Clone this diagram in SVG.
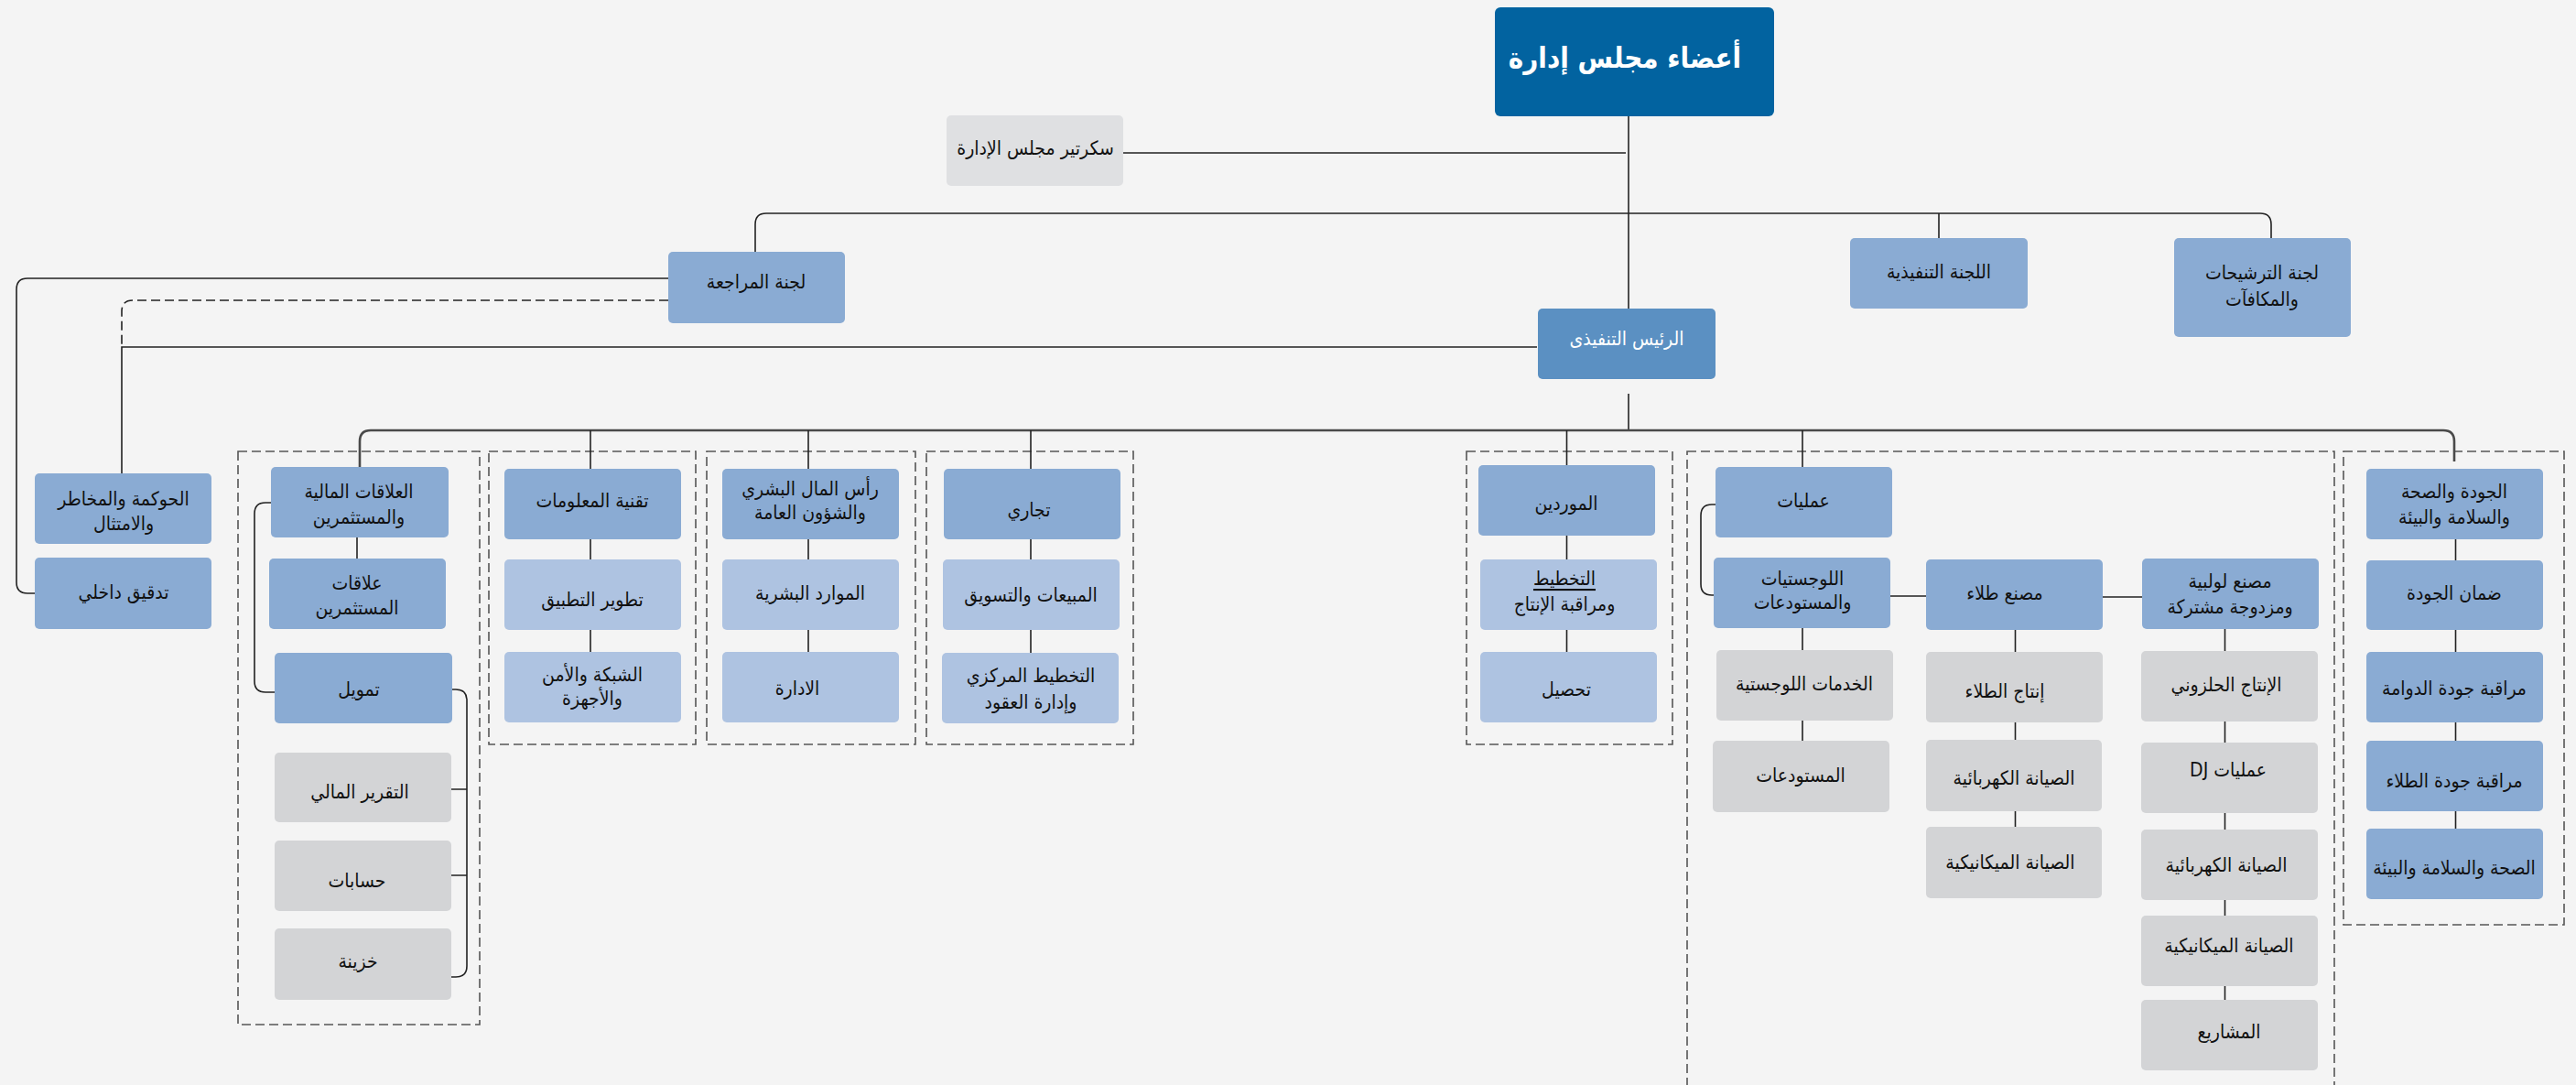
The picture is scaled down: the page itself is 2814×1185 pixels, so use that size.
<svg xmlns="http://www.w3.org/2000/svg" width="2814" height="1185" viewBox="0 0 2814 1185">
<style>
.bg{fill:#f4f4f4}
.n{fill:#8aabd3}
.l{fill:#aec3e1}
.g{fill:#d3d4d6}
.s{fill:#dfe0e2}
.c{fill:#5b90c2}
.b{fill:#0263a0}
text{font-family:"DejaVu Sans Condensed","DejaVu Sans",sans-serif;font-size:21px;fill:#111;text-anchor:middle;dominant-baseline:central;direction:rtl}
.w{fill:#fff}
.big{font-size:31px;font-weight:bold}
.ln{fill:none;stroke:#222;stroke-width:1.6}
.bus{fill:none;stroke:#4a4a4a;stroke-width:2.6}
.grp{fill:none;stroke:#555;stroke-width:1.6;stroke-dasharray:10 5}
</style>
<rect class="bg" x="0" y="0" width="2814" height="1185"/>
<g id="groups">
<rect class="grp" x="260" y="493" width="264" height="626"/>
<rect class="grp" x="534" y="493" width="226" height="320"/>
<rect class="grp" x="772" y="493" width="228" height="320"/>
<rect class="grp" x="1012" y="493" width="226" height="320"/>
<rect class="grp" x="1602" y="493" width="225" height="320"/>
<rect class="grp" x="1843" y="493" width="707" height="720"/>
<rect class="grp" x="2560" y="493" width="241" height="517"/>
</g>
<g id="connectors">
<path class="ln" d="M1779,122 V337"/>
<path class="ln" d="M1227,167 H1776"/>
<path class="ln" d="M825,275 V245 Q825,233 837,233 H2469 Q2481,233 2481,245 V260"/>
<path class="ln" d="M2118,233 V260"/>
<path class="ln" d="M1679,379 H133 V517"/>
<path class="ln" d="M730,328 H145 Q133,328 133,340 V379" stroke-dasharray="10 5"/>
<path class="ln" d="M730,304 H30 Q18,304 18,316 V636 Q18,648 30,648 H38"/>
<path class="ln" d="M1779,430 V470"/>
<path class="bus" d="M393,510 V482 Q393,470 405,470 H2669 Q2681,470 2681,482 V504"/>
<path class="ln" d="M645,470 V512 M883,470 V512 M1126,470 V512 M1711.5,470 V508 M1969,470 V510"/>
<path class="ln" d="M390,587 V610"/>
<path class="ln" d="M296,549 H290 Q278,549 278,561 V744 Q278,756 290,756 H300"/>
<path class="ln" d="M494,753 H498 Q510,753 510,765 V1055 Q510,1067 498,1067 H493 M493,862 H510 M493,956 H510"/>
<path class="ln" d="M645,589 V611 M645,688 V712"/>
<path class="ln" d="M883,589 V611 M883,688 V712"/>
<path class="ln" d="M1126,589 V611 M1126,688 V713"/>
<path class="ln" d="M1711.5,585 V611 M1711.5,688 V712"/>
<path class="ln" d="M1874,551 H1870 Q1858,551 1858,563 V638 Q1858,650 1870,650 H1872"/>
<path class="ln" d="M2065,651 H2104 M2297,652 H2340"/>
<path class="ln" d="M1969,686 V710 M1969,787 V809"/>
<path class="ln" d="M2201.5,688 V712 M2201.5,789 V808 M2201.5,886 V903"/>
<path class="ln" d="M2430.5,687 V711 M2430.5,788 V811 M2430.5,888 V906 M2430.5,983 V1000 M2430.5,1077 V1092"/>
<path class="ln" d="M2682.5,589 V612 M2682.5,688 V712 M2682.5,789 V809 M2682.5,886 V905"/>
</g>
<g id="board"><rect class="b" x="1633" y="8" width="305" height="119" rx="6"/><text class="w big" x="1775" y="63">أعضاء مجلس إدارة</text></g>
<g id="secretary"><rect class="s" x="1034" y="126" width="193" height="77" rx="5"/><text x="1131" y="162">سكرتير مجلس الإدارة</text></g>
<g id="audit-committee"><rect class="n" x="730" y="275" width="193" height="78" rx="5"/><text x="826" y="308">لجنة المراجعة</text></g>
<g id="executive-committee"><rect class="n" x="2021" y="260" width="194" height="77" rx="5"/><text x="2118" y="297">اللجنة التنفيذية</text></g>
<g id="nominations-committee"><rect class="n" x="2375" y="260" width="193" height="108" rx="5"/><text x="2471" y="298">لجنة الترشيحات</text><text x="2471" y="327">والمكافآت</text></g>
<g id="ceo"><rect class="c" x="1680" y="337" width="194" height="77" rx="5"/><text class="w" x="1777" y="370">الرئيس التنفيذى</text></g>
<g id="governance"><rect class="n" x="38" y="517" width="193" height="77" rx="5"/><text x="135" y="545">الحوكمة والمخاطر</text><text x="135" y="572">والامتثال</text></g>
<g id="internal-audit"><rect class="n" x="38" y="609" width="193" height="78" rx="5"/><text x="135" y="647">تدقيق داخلي</text></g>
<g id="financial-relations"><rect class="n" x="296" y="510" width="194" height="77" rx="5"/><text x="392" y="537">العلاقات المالية</text><text x="392" y="565">والمستثمرين</text></g>
<g id="investor-relations"><rect class="n" x="294" y="610" width="193" height="77" rx="5"/><text x="390" y="637">علاقات</text><text x="390" y="664">المستثمرين</text></g>
<g id="finance"><rect class="n" x="300" y="713" width="194" height="77" rx="5"/><text x="392" y="753">تمويل</text></g>
<g id="financial-reporting"><rect class="g" x="300" y="822" width="193" height="76" rx="5"/><text x="393" y="865">التقرير المالي</text></g>
<g id="accounts"><rect class="g" x="300" y="918" width="193" height="77" rx="5"/><text x="390" y="962">حسابات</text></g>
<g id="treasury"><rect class="g" x="300" y="1014" width="193" height="78" rx="5"/><text x="391" y="1050">خزينة</text></g>
<g id="it"><rect class="n" x="551" y="512" width="193" height="77" rx="5"/><text x="647" y="547">تقنية المعلومات</text></g>
<g id="app-dev"><rect class="l" x="551" y="611" width="193" height="77" rx="5"/><text x="647" y="655">تطوير التطبيق</text></g>
<g id="network"><rect class="l" x="551" y="712" width="193" height="77" rx="5"/><text x="647" y="737">الشبكة والأمن</text><text x="647" y="763">والأجهزة</text></g>
<g id="human-capital"><rect class="n" x="789" y="512" width="193" height="77" rx="5"/><text x="885" y="534">رأس المال البشري</text><text x="885" y="560">والشؤون العامة</text></g>
<g id="hr"><rect class="l" x="789" y="611" width="193" height="77" rx="5"/><text x="885" y="648">الموارد البشرية</text></g>
<g id="administration"><rect class="l" x="789" y="712" width="193" height="77" rx="5"/><text x="871" y="752">الادارة</text></g>
<g id="commercial"><rect class="n" x="1031" y="512" width="193" height="77" rx="5"/><text x="1124" y="557">تجاري</text></g>
<g id="sales"><rect class="l" x="1030" y="611" width="193" height="77" rx="5"/><text x="1126" y="650">المبيعات والتسويق</text></g>
<g id="central-planning"><rect class="l" x="1029" y="713" width="193" height="77" rx="5"/><text x="1126" y="738">التخطيط المركزي</text><text x="1126" y="767">وإدارة العقود</text></g>
<g id="suppliers"><rect class="n" x="1615" y="508" width="193" height="77" rx="5"/><text x="1711" y="550">الموردين</text></g>
<g id="production-planning"><rect class="l" x="1617" y="611" width="193" height="77" rx="5"/><text x="1709" y="632" text-decoration="underline">التخطيط</text><text x="1709" y="660">ومراقبة الإنتاج</text></g>
<g id="collection"><rect class="l" x="1617" y="712" width="193" height="77" rx="5"/><text x="1711" y="753">تحصيل</text></g>
<g id="operations"><rect class="n" x="1874" y="510" width="193" height="77" rx="5"/><text x="1970" y="547">عمليات</text></g>
<g id="logistics"><rect class="n" x="1872" y="609" width="193" height="77" rx="5"/><text x="1969" y="632">اللوجستيات</text><text x="1969" y="658">والمستودعات</text></g>
<g id="logistics-services"><rect class="g" x="1875" y="710" width="193" height="77" rx="5"/><text x="1971" y="747">الخدمات اللوجستية</text></g>
<g id="warehouses"><rect class="g" x="1871" y="809" width="193" height="78" rx="5"/><text x="1967" y="847">المستودعات</text></g>
<g id="paint-factory"><rect class="n" x="2104" y="611" width="193" height="77" rx="5"/><text x="2190" y="648">مصنع طلاء</text></g>
<g id="paint-production"><rect class="g" x="2104" y="712" width="193" height="77" rx="5"/><text x="2190" y="755">إنتاج الطلاء</text></g>
<g id="paint-electrical"><rect class="g" x="2104" y="808" width="192" height="78" rx="5"/><text x="2200" y="850">الصيانة الكهربائية</text></g>
<g id="paint-mechanical"><rect class="g" x="2104" y="903" width="192" height="78" rx="5"/><text x="2196" y="942">الصيانة الميكانيكية</text></g>
<g id="spiral-factory"><rect class="n" x="2340" y="610" width="193" height="77" rx="5"/><text x="2436" y="635">مصنع لولبية</text><text x="2436" y="663">ومزدوجة مشتركة</text></g>
<g id="spiral-production"><rect class="g" x="2339" y="711" width="193" height="77" rx="5"/><text x="2432" y="748">الإنتاج الحلزوني</text></g>
<g id="dj-operations"><rect class="g" x="2339" y="811" width="193" height="77" rx="5"/><text x="2434" y="841">عمليات DJ</text></g>
<g id="spiral-electrical"><rect class="g" x="2339" y="906" width="193" height="77" rx="5"/><text x="2432" y="945">الصيانة الكهربائية</text></g>
<g id="spiral-mechanical"><rect class="g" x="2339" y="1000" width="193" height="77" rx="5"/><text x="2435" y="1033">الصيانة الميكانيكية</text></g>
<g id="projects"><rect class="g" x="2339" y="1092" width="193" height="77" rx="5"/><text x="2435" y="1127">المشاريع</text></g>
<g id="qhse"><rect class="n" x="2585" y="512" width="193" height="77" rx="5"/><text x="2681" y="537">الجودة والصحة</text><text x="2681" y="565">والسلامة والبيئة</text></g>
<g id="quality-assurance"><rect class="n" x="2585" y="612" width="193" height="76" rx="5"/><text x="2681" y="648">ضمان الجودة</text></g>
<g id="vortex-quality"><rect class="n" x="2585" y="712" width="193" height="77" rx="5"/><text x="2681" y="752">مراقبة جودة الدوامة</text></g>
<g id="paint-quality"><rect class="n" x="2585" y="809" width="193" height="77" rx="5"/><text x="2681" y="853">مراقبة جودة الطلاء</text></g>
<g id="hse"><rect class="n" x="2585" y="905" width="193" height="77" rx="5"/><text x="2681" y="948">الصحة والسلامة والبيئة</text></g>
</svg>
